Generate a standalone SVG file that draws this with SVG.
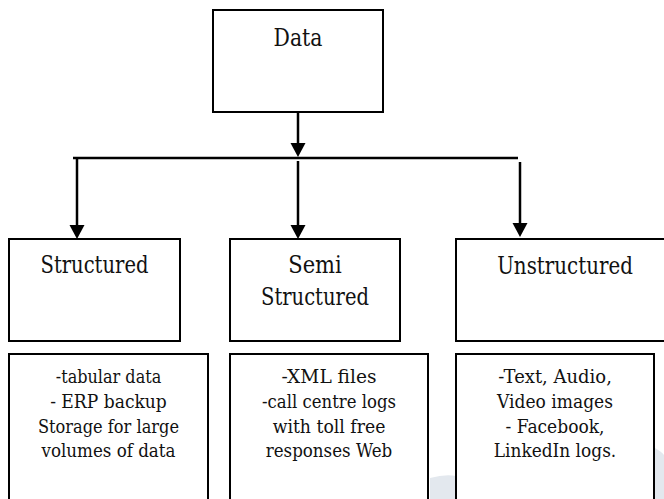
<svg xmlns="http://www.w3.org/2000/svg" width="664" height="499" viewBox="0 0 664 499">
<style>
.box{fill:#fff;stroke:#000;stroke-width:2}
text{font-family:"DejaVu Serif","Noto Serif",serif;fill:#111;text-anchor:middle}
.h{font-size:24px}
.b{font-size:19px}
.ln{stroke:#000;stroke-width:2.5;fill:none}
</style>
<rect width="664" height="499" fill="#fff"/>
<g id="watermark" fill="#e3e8ee" stroke="none">
<path d="M430,499 L430,478 Q445,474 456,476 L456,499 Z"/>
<path d="M655,448 Q662,452 664,455 L664,499 L655,499 Z"/>
</g>
<g id="connectors">
<line class="ln" x1="73" y1="158" x2="518" y2="158"/>
<line class="ln" x1="298" y1="112" x2="298" y2="143"/>
<path d="M290.5,143 L305.5,143 L298,157 Z" fill="#000"/>
<line class="ln" x1="77" y1="158" x2="77" y2="225"/>
<path d="M69.5,225 L84.5,225 L77,239 Z" fill="#000"/>
<line class="ln" x1="298" y1="161" x2="298" y2="225"/>
<path d="M290.5,225 L305.5,225 L298,239 Z" fill="#000"/>
<line class="ln" x1="520" y1="162" x2="520" y2="223"/>
<path d="M512.5,223 L527.5,223 L520,237 Z" fill="#000"/>
</g>
<g id="data">
<rect class="box" x="213" y="10" width="170" height="102"/>
<text class="h" x="298" y="46" textLength="49" lengthAdjust="spacingAndGlyphs">Data</text>
</g>
<g id="structured">
<rect class="box" x="9" y="239" width="171" height="102"/>
<text class="h" x="94.5" y="273" textLength="108" lengthAdjust="spacingAndGlyphs">Structured</text>
</g>
<g id="semi">
<rect class="box" x="230" y="239" width="170" height="102"/>
<text class="h" x="315" y="273" textLength="53.5" lengthAdjust="spacingAndGlyphs">Semi</text>
<text class="h" x="315" y="305" textLength="108" lengthAdjust="spacingAndGlyphs">Structured</text>
</g>
<g id="unstructured">
<rect class="box" x="456" y="239" width="220" height="102"/>
<text class="h" x="565" y="274" textLength="135.7" lengthAdjust="spacingAndGlyphs">Unstructured</text>
</g>
<g id="structured-detail">
<rect class="box" x="9" y="354" width="199" height="160"/>
<text class="b" x="108.5" y="383" textLength="105.5" lengthAdjust="spacingAndGlyphs">-tabular data</text>
<text class="b" x="108.5" y="408" textLength="116.7" lengthAdjust="spacingAndGlyphs">- ERP backup</text>
<text class="b" x="108.5" y="433" textLength="141" lengthAdjust="spacingAndGlyphs">Storage for large</text>
<text class="b" x="108.5" y="457" textLength="134" lengthAdjust="spacingAndGlyphs">volumes of data</text>
</g>
<g id="semi-detail">
<rect class="box" x="230" y="354" width="198" height="160"/>
<text class="b" x="329" y="383" textLength="95" lengthAdjust="spacingAndGlyphs">-XML files</text>
<text class="b" x="329" y="408" textLength="134" lengthAdjust="spacingAndGlyphs">-call centre logs</text>
<text class="b" x="329" y="433" textLength="112.7" lengthAdjust="spacingAndGlyphs">with toll free</text>
<text class="b" x="329" y="457" textLength="126.5" lengthAdjust="spacingAndGlyphs">responses Web</text>
</g>
<g id="unstructured-detail">
<rect class="box" x="456" y="354" width="198" height="160"/>
<text class="b" x="555" y="383" textLength="113.7" lengthAdjust="spacingAndGlyphs">-Text, Audio,</text>
<text class="b" x="555" y="408" textLength="116" lengthAdjust="spacingAndGlyphs">Video images</text>
<text class="b" x="555" y="433" textLength="99" lengthAdjust="spacingAndGlyphs">- Facebook,</text>
<text class="b" x="555" y="457" textLength="122.5" lengthAdjust="spacingAndGlyphs">LinkedIn logs.</text>
</g>
</svg>
